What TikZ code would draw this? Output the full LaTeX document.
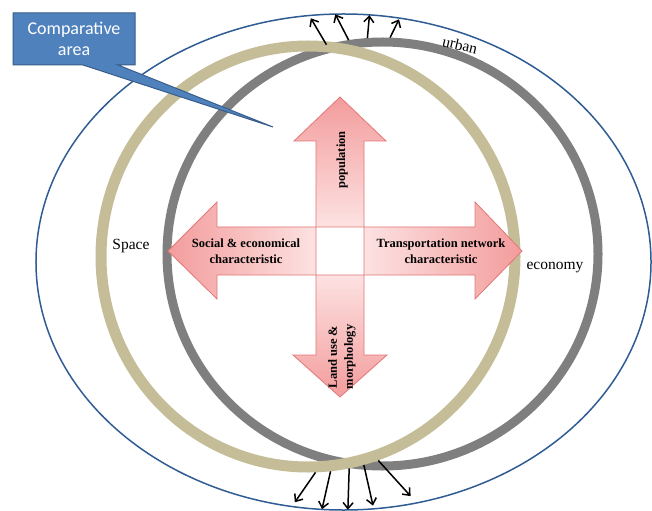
\documentclass[tikz,border=0pt]{standalone}
\usepackage{fontspec}
\setmainfont{Liberation Serif}
\newfontfamily\boxfont{Carlito}
\usetikzlibrary{shapes.geometric,arrows.meta}
\definecolor{urbanblue}{HTML}{2F5C93}
\definecolor{spacetan}{HTML}{C4BD97}
\definecolor{econgray}{HTML}{7F7F7F}
\definecolor{calloutfill}{HTML}{4F81BD}
\definecolor{calloutline}{HTML}{385D8A}
\definecolor{pinklight}{HTML}{FDE2E2}
\definecolor{pinkdark}{HTML}{F39C9C}
\definecolor{pinkline}{HTML}{E27777}

\tikzset{
  ring/.style={ellipse, draw, inner sep=0pt},
  outflow/.style={-{Straight Barb[length=6bp,width=10bp]}, line width=1.5bp, black},
  crossarrow/.style={draw=pinkline, line width=0.8bp},
  armtext/.style={font=\bfseries\fontsize{12.5bp}{16bp}\selectfont, align=center},
  ringtext/.style={font=\fontsize{15.5bp}{18bp}\selectfont}
}

\begin{document}
\begin{tikzpicture}[x=1bp, y=-1bp]
\useasboundingbox (0,0) rectangle (652,511);
\node[ring, draw=urbanblue, line width=1.5bp, minimum width=615bp, minimum height=496bp] (urban) at (343.5,262) {};
\node[ring, draw=econgray, line width=9bp, minimum width=431bp, minimum height=424bp] (economy) at (382.5,254) {};
\node[ring, draw=spacetan, line width=11bp, minimum width=414bp, minimum height=421bp] (space) at (308,256.5) {};

\foreach \s/\e/\k in {105.7/98.6/4, 99.8/92.0/1, 94.1/84.6/1, 88.8/77.5/2}
  \draw[outflow, shorten >=\k bp] (economy.\s) -- (urban.\e);
\foreach \s/\e/\k in {-88.9/-102.7/6, -84.4/-95.9/1, -79.2/-89.2/1, -75.4/-83.1/4, -71.9/-73.3/10}
  \draw[outflow, shorten >=\k bp] (space.\s) -- (urban.\e);

\shade[crossarrow, top color=pinkdark, bottom color=pinklight] (316,227) -- (316,141) -- (294,141) -- (340,97) -- (386,141) -- (364,141) -- (364,227) -- cycle;
\shade[crossarrow, top color=pinklight, bottom color=pinkdark] (316,275) -- (316,355) -- (293,355) -- (340,397) -- (387,355) -- (364,355) -- (364,275) -- cycle;
\shade[crossarrow, left color=pinkdark, right color=pinklight] (316,227) -- (217,227) -- (217,202) -- (168,251) -- (217,299) -- (217,275) -- (316,275) -- cycle;
\shade[crossarrow, left color=pinklight, right color=pinkdark] (364,227) -- (475,227) -- (475,202) -- (522,251) -- (475,299) -- (475,275) -- (364,275) -- cycle;

\node[armtext, rotate=90] (population) at (342,160) {population};
\node[armtext, rotate=90] (landuse) at (342,357) {Land use \&\\morphology};
\node[armtext] (social) at (246,251) {Social \& economical\\characteristic};
\node[armtext] (transport) at (441,251) {Transportation network\\characteristic};

\node[ringtext] (spacelabel) at (131,246) {Space};
\node[ringtext] (economylabel) at (555,268) {economy};
\node[ringtext, rotate=-13] (urbanlabel) at (460,45) {urban};

\filldraw[fill=calloutfill, draw=calloutline, line width=1bp] (13,13) -- (135,13) -- (135,65) -- (118,65) -- (273,127) -- (83,65) -- (13,65) -- cycle;
\node[font=\boxfont\fontsize{18bp}{21bp}\selectfont, text=white, align=center] (comparative) at (74,39) {Comparative\\area};
\end{tikzpicture}
\end{document}
